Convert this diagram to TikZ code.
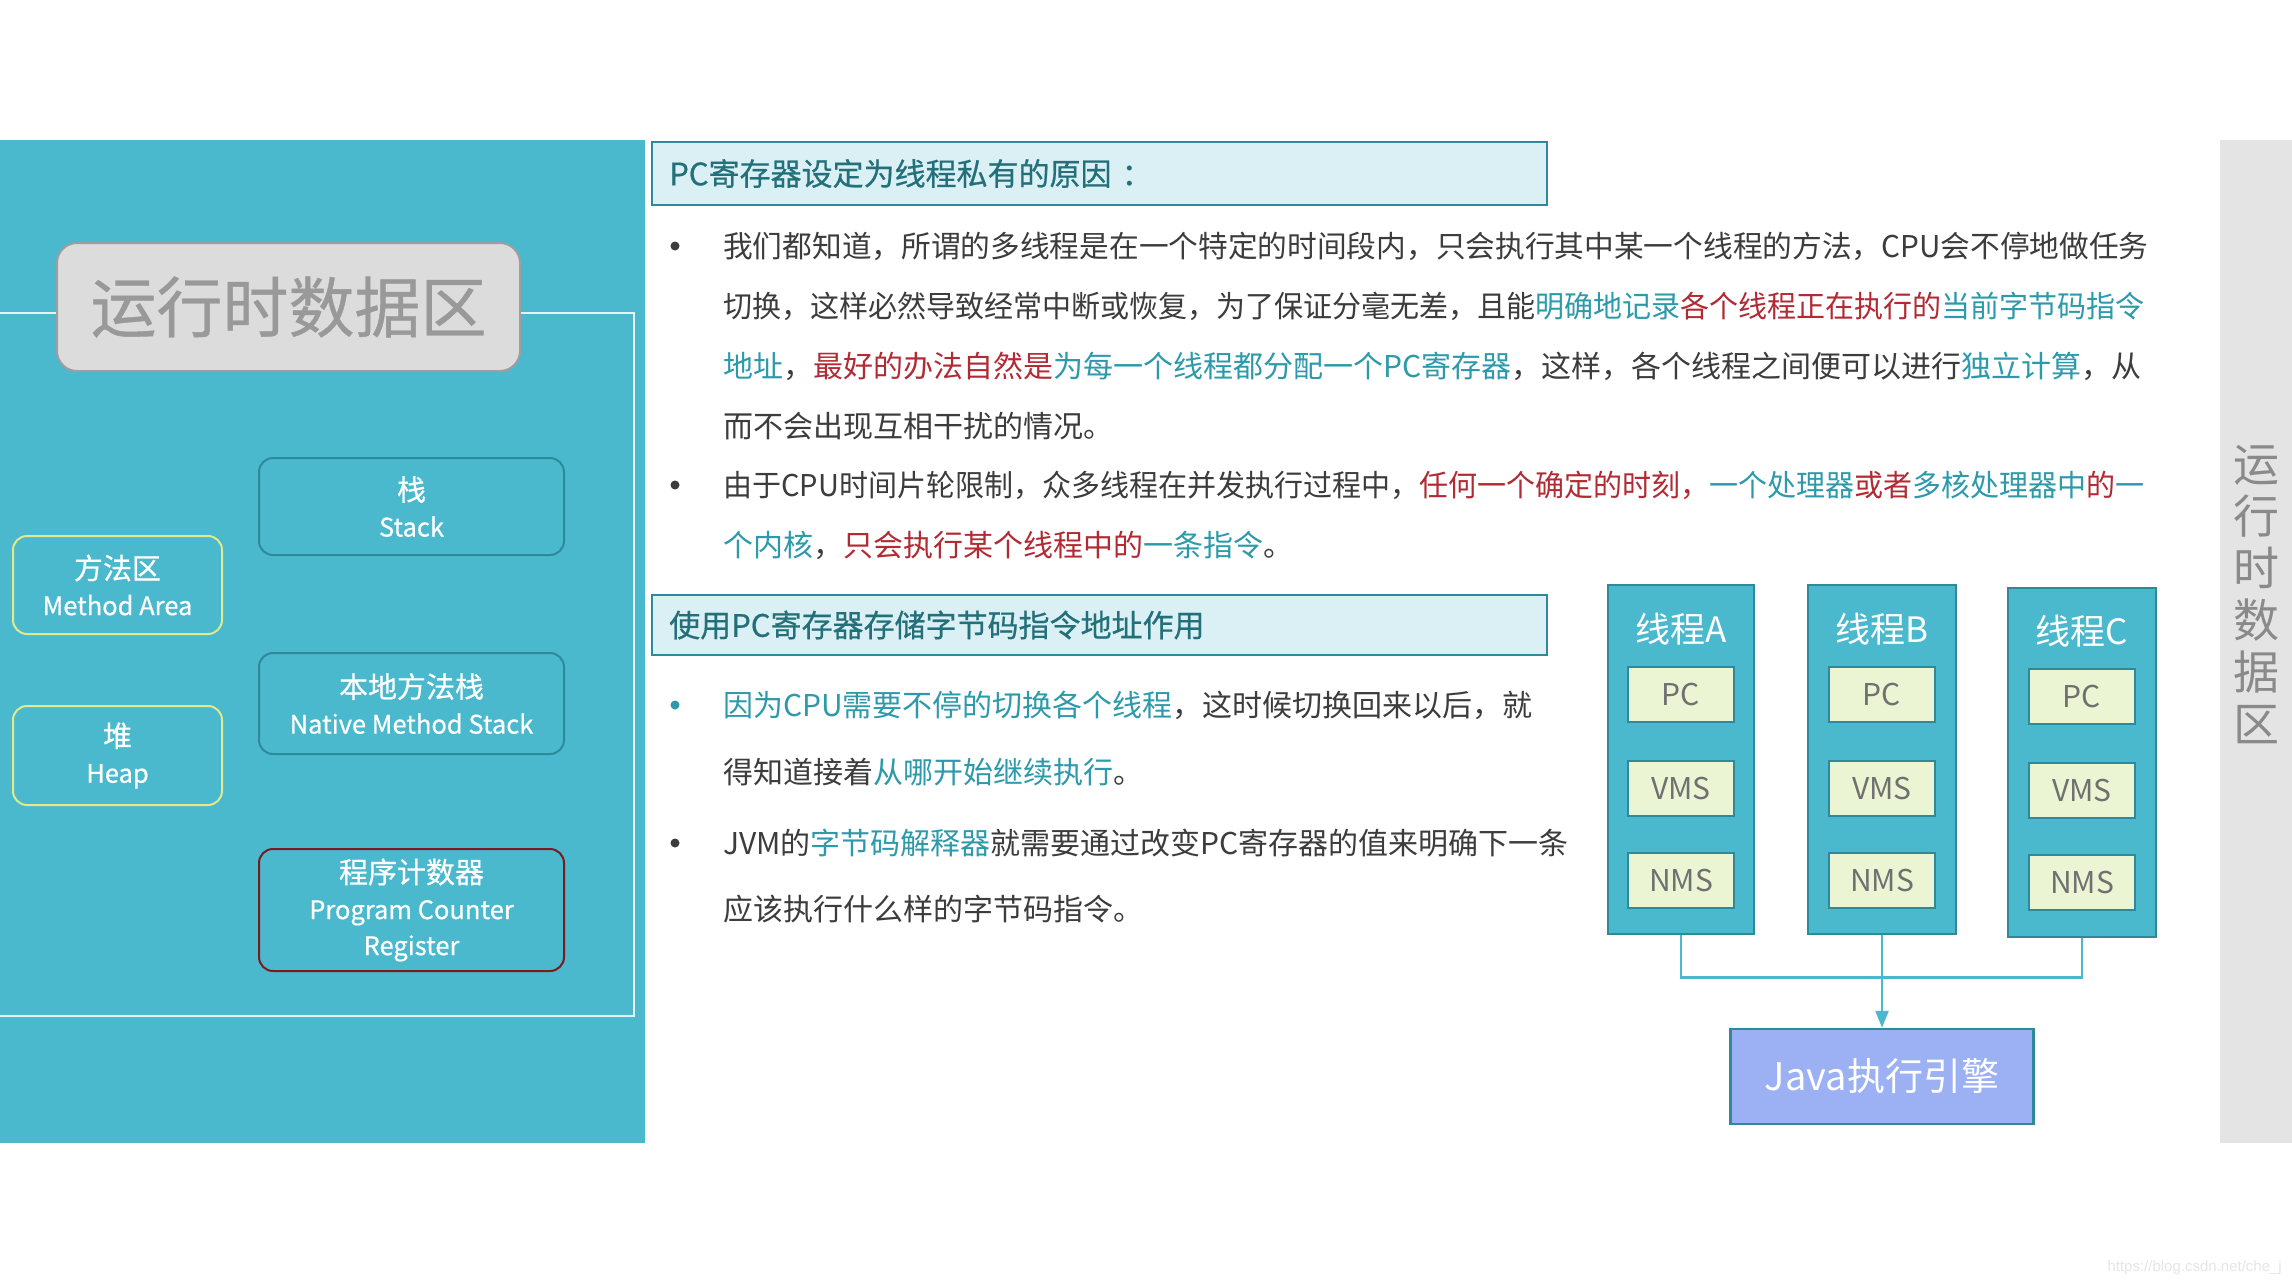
\documentclass[tikz,border=0pt]{standalone}
\usepackage{graphicx}
\usepackage{fontspec}
\setmainfont{Noto Sans CJK SC}
\newfontfamily\boxfont[BoldFont={Noto Sans CJK SC},BoldFeatures={FakeBold=0.6}]{Noto Sans CJK SC}
\newfontfamily\wmfont{Liberation Sans}
\usetikzlibrary{arrows.meta}
\definecolor{tealbg}{HTML}{4AB8CD}
\definecolor{tealdark}{HTML}{2E8A9A}
\definecolor{hdrfill}{HTML}{DAF0F4}
\definecolor{hdrtext}{HTML}{23707A}
\definecolor{txtdark}{HTML}{3C3C3C}
\definecolor{txtteal}{HTML}{2C9AAA}
\definecolor{txtred}{HTML}{B22A33}
\definecolor{pcfill}{HTML}{EBF5D3}
\definecolor{pctext}{HTML}{707070}
\definecolor{javafill}{HTML}{9BB1F4}
\definecolor{grayfill}{HTML}{E4E4E4}
\definecolor{graytext}{HTML}{8A8A8A}
\definecolor{titlefill}{HTML}{DCDCDC}
\definecolor{titleborder}{HTML}{9E9E9E}
\definecolor{titletext}{HTML}{999999}
\definecolor{yellowborder}{HTML}{E2E88E}
\definecolor{redborder}{HTML}{7C1B1E}
\definecolor{frameline}{HTML}{E6F4F7}
\definecolor{wmcolor}{HTML}{E6E6E6}
\newcommand\ctl[1]{\textcolor{txtteal}{#1}}
\newcommand\cred[1]{\textcolor{txtred}{#1}}
\newcommand\bigcj[1]{{\fontsize{29}{36}\selectfont #1}}
\begin{document}
\begin{tikzpicture}[x=1pt,y=-1pt,
  areabox/.style={draw=tealdark, line width=2pt, fill=tealbg, rounded corners=14pt,
     text=white, align=center, inner sep=0pt, font=\boxfont\bfseries\fontsize{25.5}{36}\selectfont},
  hdrbox/.style={draw=tealdark, line width=2.5pt, fill=hdrfill, inner sep=0pt},
  hdrtxt/.style={anchor=west, inner sep=0pt, text=hdrtext, font=\boxfont\bfseries\fontsize{31}{31}\selectfont},
  hw/.style={anchor=base west, inner sep=0pt, text=txtdark, font=\fontsize{30}{30}\selectfont},
  bulletdot/.style={circle, fill=txtdark, inner sep=0pt, minimum size=9pt},
  threadbox/.style={draw=tealdark, line width=2.5pt, fill=tealbg, inner sep=0pt},
  threadtitle/.style={text=white, inner sep=0pt, font=\fontsize{35}{35}\selectfont},
  membox/.style={draw=tealdark, line width=2.5pt, fill=pcfill, text=pctext, inner sep=0pt,
     minimum width=106pt, minimum height=55pt, font=\fontsize{30}{30}\selectfont},
  link/.style={draw=tealbg, line width=2.5pt}
]
\useasboundingbox (0,0) rectangle (2292,1286);
\fill[white] (0,0) rectangle (2292,1286);
% left panel
\fill[tealbg] (0,140) rectangle (645,1143);
\draw[frameline, line width=2.5pt] (0,313) -- (634,313) -- (634,1016) -- (0,1016);
\node[draw=titleborder, line width=2pt, fill=titlefill, rounded corners=20pt,
  minimum width=463pt, minimum height=128pt, inner sep=0pt, text=titletext,
  font=\boxfont\bfseries\fontsize{66}{66}\selectfont] (title) at (288.5,307) {运行时数据区};
\node[areabox, minimum width=305pt, minimum height=97pt] (stack) at (411.5,506.5) {\bigcj{栈}\\Stack};
\node[areabox, draw=yellowborder, minimum width=209pt, minimum height=98pt] (method) at (117.5,585) {\bigcj{方法区}\\Method Area};
\node[areabox, minimum width=305pt, minimum height=101pt] (native) at (411.5,703.5) {\bigcj{本地方法栈}\\Native Method Stack};
\node[areabox, draw=yellowborder, minimum width=209pt, minimum height=99pt] (heap) at (117.5,755.5) {\bigcj{堆}\\Heap};
\node[areabox, draw=redborder, minimum width=305pt, minimum height=122pt] (pcreg) at (411.5,910) {\bigcj{程序计数器}\\Program Counter\\Register};
% right gray bar
\fill[grayfill] (2220,140) rectangle (2292,1143);
\node[text=graytext, align=center, inner sep=0pt, font=\fontsize{46}{52}\selectfont] (side) at (2256,595) {运\\行\\时\\数\\据\\区};
% header 1
\node[hdrbox, minimum width=895pt, minimum height=63pt] (h1) at (1099.5,173.5) {};
\node[hdrtxt] (h1t) at (669,173.5) {PC寄存器设定为线程私有的原因\hspace{10pt}：};
% bullet 1
\node[bulletdot] (b1) at (675,246) {};
\node[hw] (l1) at (723,257) {\scalebox{0.99}[1]{我们都知道，所谓的多线程是在一个特定的时间段内，只会执行其中某一个线程的方法，CPU会不停地做任务}};
\node[hw] (l2) at (723,317) {\scalebox{0.967}[1]{切换，这样必然导致经常中断或恢复，为了保证分毫无差，且能\ctl{明确地记录}\cred{各个线程正在执行的}\ctl{当前字节码指令}}};
\node[hw] (l3) at (723,377) {\ctl{地址}，\cred{最好的办法自然是}\ctl{为每一个线程都分配一个PC寄存器}，这样，各个线程之间便可以进行\ctl{独立计算}，从};
\node[hw] (l4) at (723,437) {而不会出现互相干扰的情况。};
% bullet 2
\node[bulletdot] (b2) at (675,485) {};
\node[hw] (l5) at (723,496) {\scalebox{0.967}[1]{由于CPU时间片轮限制，众多线程在并发执行过程中，\cred{任何一个确定的时刻，}\ctl{一个处理器}\cred{或者}\ctl{多核处理器中}\cred{的}\ctl{一}}};
\node[hw] (l6) at (723,556) {\ctl{个内核}，\cred{只会执行某个线程中的}\ctl{一条指令}。};
% header 2
\node[hdrbox, minimum width=895pt, minimum height=60pt] (h2) at (1099.5,625) {};
\node[hdrtxt] (h2t) at (669,625) {使用PC寄存器存储字节码指令地址作用};
% bullet 3
\node[bulletdot, fill=txtteal] (b3) at (675,705) {};
\node[hw] (l7) at (723,716) {\ctl{因为CPU需要不停的切换各个线程}，这时候切换回来以后，就};
\node[hw] (l8) at (723,783) {得知道接着\ctl{从哪开始继续执行}。};
% bullet 4
\node[bulletdot] (b4) at (675,843) {};
\node[hw] (l9) at (723,854) {JVM的\ctl{字节码解释器}就需要通过改变PC寄存器的值来明确下一条};
\node[hw] (l10) at (723,920) {应该执行什么样的字节码指令。};
% threads
\node[threadbox, minimum width=146pt, minimum height=349pt] (tA) at (1681,759.5) {};
\node[threadbox, minimum width=148pt, minimum height=349pt] (tB) at (1882,759.5) {};
\node[threadbox, minimum width=148pt, minimum height=349pt] (tC) at (2082,762.5) {};
\node[threadtitle] (tAt) at (1681,629) {线程A};
\node[threadtitle] (tBt) at (1882,629) {线程B};
\node[threadtitle] (tCt) at (2082,631) {线程C};
\node[membox] (pcA) at (1681,694.5) {PC};
\node[membox] (vmsA) at (1681,788.5) {VMS};
\node[membox] (nmsA) at (1681,880.5) {NMS};
\node[membox] (pcB) at (1882,694.5) {PC};
\node[membox] (vmsB) at (1882,788.5) {VMS};
\node[membox] (nmsB) at (1882,880.5) {NMS};
\node[membox] (pcC) at (2082,696.5) {PC};
\node[membox] (vmsC) at (2082,790.5) {VMS};
\node[membox] (nmsC) at (2082,882.5) {NMS};
% java engine
\node[draw=tealdark, line width=2.5pt, fill=javafill, text=white, inner sep=0pt,
  minimum width=303pt, minimum height=95pt, font=\fontsize{38}{38}\selectfont] (java) at (1882,1076.5) {Java执行引擎};
\draw[link] (tA.south) -- ++(0,42) -| (tC.south);
\draw[link, -{Triangle[width=13pt,length=17pt]}] (tB.south) -- (java.north);
% watermark
\node[anchor=east, inner sep=0pt, text=wmcolor, font=\wmfont\fontsize{15}{15}\selectfont] (wm) at (2282,1268) {https://blog.csdn.net/che\_j};
\end{tikzpicture}
\end{document}
